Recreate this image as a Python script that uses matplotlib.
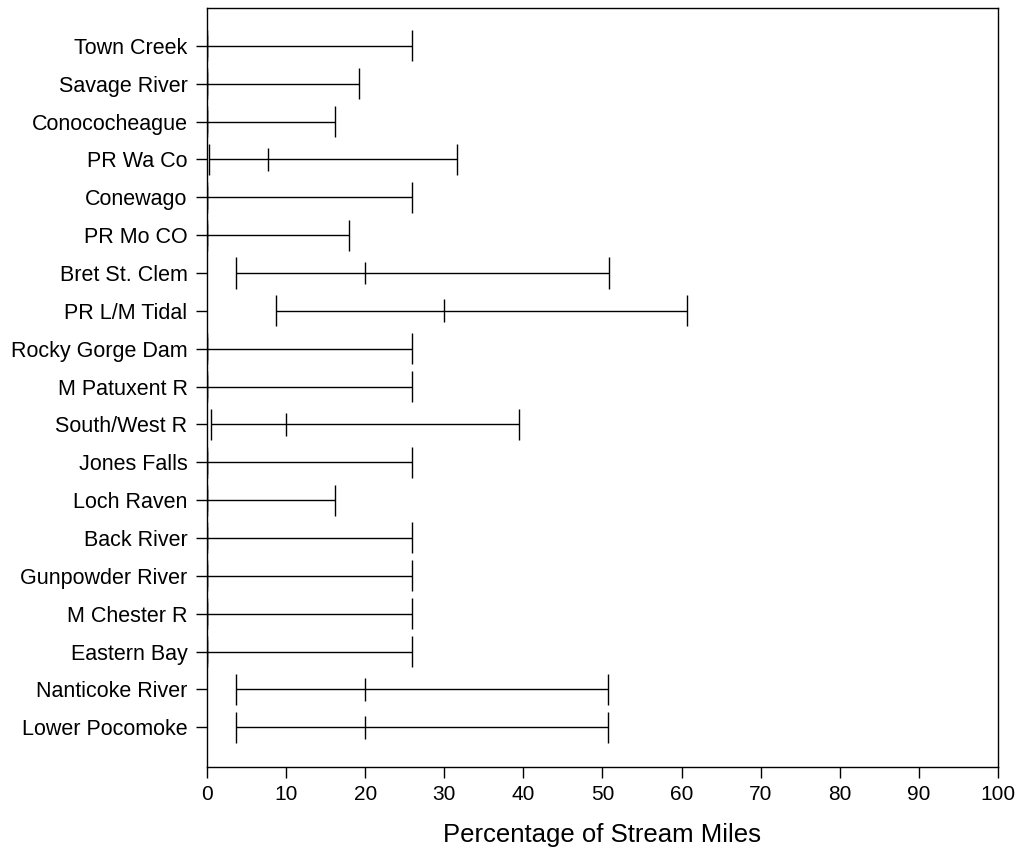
import matplotlib.pyplot as plt
import numpy as np

plt.rcParams['font.family'] = ['Liberation Sans', 'DejaVu Sans']

# watersheds, listed top to bottom
sites = ['Town Creek', 'Savage River', 'Conococheague', 'PR Wa Co', 'Conewago',
         'PR Mo CO', 'Bret St. Clem', 'PR L/M Tidal', 'Rocky Gorge Dam',
         'M Patuxent R', 'South/West R', 'Jones Falls', 'Loch Raven', 'Back River',
         'Gunpowder River', 'M Chester R', 'Eastern Bay', 'Nanticoke River',
         'Lower Pocomoke']
low = [0, 0, 0, 0.3, 0, 0, 3.7, 8.7, 0, 0, 0.5, 0, 0, 0, 0, 0, 0, 3.7, 3.7]
mid = [0, 0, 0, 7.7, 0, 0, 20.0, 30.0, 0, 0, 10.0, 0, 0, 0, 0, 0, 0, 20.0, 20.0]
high = [25.9, 19.2, 16.2, 31.6, 25.9, 18.0, 50.8, 60.7, 25.9, 25.9, 39.4,
        25.9, 16.2, 25.9, 25.9, 25.9, 25.9, 50.7, 50.7]

fig = plt.figure(figsize=(10.21, 8.52), dpi=100)
ax = fig.add_axes([0.2027, 0.0998, 0.7748, 0.8908])

y = np.arange(len(sites), 0, -1)
lw = 1.0
ax.hlines(y, low, high, color='black', lw=lw)
ax.vlines(low, y - 0.41, y + 0.41, color='black', lw=lw)
ax.vlines(high, y - 0.41, y + 0.41, color='black', lw=lw)
ax.vlines(mid, y - 0.30, y + 0.30, color='black', lw=lw)

ax.set_xlim(0, 100)
ax.set_ylim(-0.05, 20)
ax.set_xticks(np.arange(0, 101, 10))
ax.set_yticks(y)
ax.set_yticklabels(sites)
ax.tick_params(axis='both', direction='out', length=8, width=1)
ax.tick_params(axis='x', labelsize=15, pad=5)
ax.tick_params(axis='y', labelsize=15.5, pad=6)
for s in ax.spines.values():
    s.set_linewidth(1)
ax.set_xlabel('Percentage of Stream Miles', fontsize=18.5, labelpad=14)

fig.savefig('out.png', dpi=100)
